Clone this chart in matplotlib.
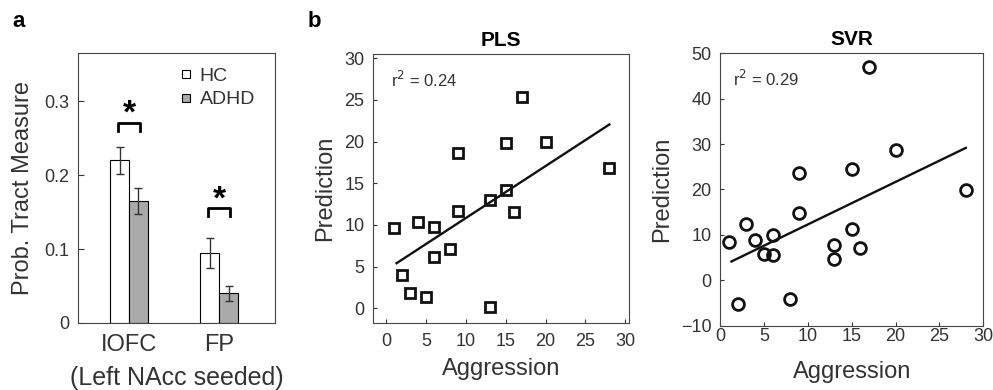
import numpy as np
import matplotlib
matplotlib.use("Agg")
import matplotlib.pyplot as plt
from matplotlib.lines import Line2D

plt.rcParams['font.family'] = ['Liberation Sans', 'DejaVu Sans']
plt.rcParams['text.color'] = '#333333'
plt.rcParams['axes.labelcolor'] = '#333333'
plt.rcParams['xtick.color'] = '#333333'
plt.rcParams['ytick.color'] = '#333333'
plt.rcParams['axes.edgecolor'] = '#444444'

# panel a data
regions = ["IOFC", "FP"]
hc_mean = [0.22, 0.095]
hc_err = [0.018, 0.02]
adhd_mean = [0.165, 0.04]
adhd_err = [0.018, 0.01]
sig_height = [0.271, 0.155]

# panel b data
aggression = [1, 2, 3, 4, 5, 6, 6, 8, 9, 9, 13, 13, 15, 15, 16, 17, 20, 28]
pls_pred = [9.6, 4.0, 1.8, 10.4, 1.4, 9.7, 6.1, 7.1, 18.6, 11.7,
            13.0, 0.1, 19.8, 14.2, 11.5, 25.4, 20.0, 16.8]
svr_pred = [8.4, -5.3, 12.3, 8.9, 5.7, 9.9, 5.6, -4.2, 23.7, 14.8,
            7.7, 4.7, 24.5, 11.4, 7.2, 46.9, 28.7, 19.8]
pls_r2 = 0.24
svr_r2 = 0.29

fig = plt.figure(figsize=(9.93, 3.9), dpi=100)

# ---- a: bar chart
ax = fig.add_axes([0.0785, 0.1718, 0.1984, 0.6923])
x = np.arange(1, len(regions) + 1)
w = 0.21
ekw = dict(ecolor='#333333', elinewidth=1, capsize=3, capthick=1)
ax.bar(x - w / 2, hc_mean, w, color='white', edgecolor='black', lw=0.8,
       yerr=hc_err, error_kw=ekw)
ax.bar(x + w / 2, adhd_mean, w, color='#aaaaaa', edgecolor='black', lw=0.8,
       yerr=adhd_err, error_kw=ekw)
for xi, h in zip(x, sig_height):
    ax.plot([xi - 0.12, xi - 0.12, xi + 0.12, xi + 0.12],
            [h - 0.011, h, h, h - 0.011], color='black', lw=2)
    ax.text(xi, h - 0.01, '*', ha='center', va='bottom', fontsize=24,
            fontweight='bold', color='black')
ax.set_xlim(0.433, 2.62)
ax.set_ylim(0, 0.365)
ax.set_yticks([0, 0.1, 0.2, 0.3])
ax.set_yticklabels(['0', '0.1', '0.2', '0.3'])
ax.set_xticks(x)
ax.set_xticklabels(regions, fontsize=17)
ax.tick_params(axis='y', direction='in', length=4, labelsize=13, pad=6)
ax.tick_params(axis='x', length=0, pad=8)
ax.set_ylabel('Prob. Tract Measure', fontsize=17, labelpad=8)
ax.set_xlabel('(Left NAcc seeded)', fontsize=18, labelpad=7)
handles = [Line2D([], [], ls='none', marker='s', markersize=6, markerfacecolor='white',
                  markeredgecolor='black', markeredgewidth=0.8),
           Line2D([], [], ls='none', marker='s', markersize=6, markerfacecolor='#aaaaaa',
                  markeredgecolor='black', markeredgewidth=0.8)]
ax.legend(handles, ['HC', 'ADHD'], loc='upper left', bbox_to_anchor=(0.46, 0.99),
          frameon=False, fontsize=14, handlelength=0.6, handletextpad=0.4,
          labelspacing=0.3, borderaxespad=0.2)
fig.text(0.012, 0.93, 'a', fontsize=16, fontweight='bold', color='black')
fig.text(0.310, 0.93, 'b', fontsize=16, fontweight='bold', color='black')


def scatter_panel(rect, yvals, marker, r2, title, ylim, yticks, xlim, xpad, xlpad, r2x):
    ax = fig.add_axes(rect)
    ax.plot(aggression, yvals, ls='none', marker=marker,
            markersize=8.5 if marker == 'o' else 7.5,
            markerfacecolor='none', markeredgecolor='#111111', markeredgewidth=2)
    k, b = np.polyfit(aggression, yvals, 1)
    xs = np.array([min(aggression) + 0.3, max(aggression)])
    ax.plot(xs, k * xs + b, color='#111111', lw=1.7)
    ax.set_xlim(*xlim)
    ax.set_ylim(*ylim)
    ax.set_xticks([0, 5, 10, 15, 20, 25, 30])
    ax.set_yticks(yticks)
    ax.tick_params(direction='in', length=3, labelsize=13)
    ax.tick_params(axis='y', pad=6)
    ax.tick_params(axis='x', pad=xpad)
    ax.set_xlabel('Aggression', fontsize=17, labelpad=xlpad)
    ax.set_ylabel('Prediction', fontsize=17, labelpad=6)
    ax.set_title(title, fontsize=15, fontweight='bold', color='black', pad=6)
    ax.text(r2x, 0.905, 'r$^2$ = %.2f' % r2, transform=ax.transAxes,
            fontsize=12, va='center', ha='left')
    return ax


scatter_panel([0.3753, 0.1710, 0.2584, 0.6905], pls_pred, 's', pls_r2, 'PLS',
              (-1.8, 30.5), [0, 5, 10, 15, 20, 25, 30], (-1.7, 30.5), 7, 6, 0.07)
scatter_panel([0.7251, 0.1649, 0.2652, 0.6985], svr_pred, 'o', svr_r2, 'SVR',
              (-10, 50), [-10, 0, 10, 20, 30, 40, 50], (0, 30), 2, 11, 0.05)

fig.savefig('out.png', dpi=100)
